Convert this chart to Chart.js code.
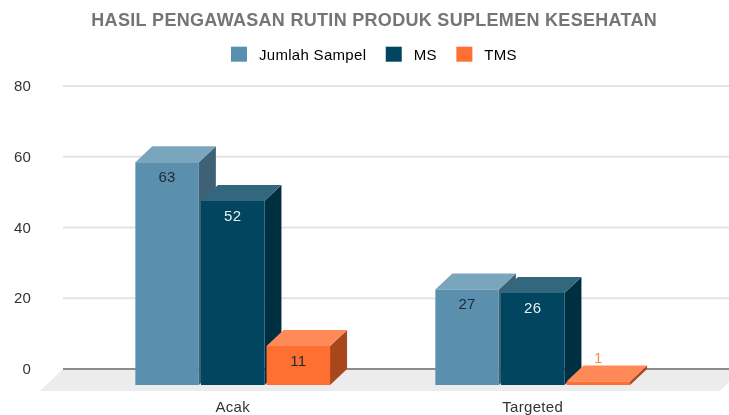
<!DOCTYPE html>
<html>
<head>
<meta charset="utf-8">
<style>
html, body { margin: 0; padding: 0; background: #fff; }
canvas { display: block; }
</style>
<script src="https://cdn.jsdelivr.net/npm/chart.js@4/dist/chart.umd.min.js"></script>
</head>
<body>
<canvas id="myChart" width="729" height="415"></canvas>
<script>
const categories = ['Acak', 'Targeted'];
const jumlahSampel = [63, 27];
const ms = [52, 26];
const tms = [11, 1];
const yTicks = [0, 20, 40, 60, 80];

const chartTitle = 'HASIL PENGAWASAN RUTIN PRODUK SUPLEMEN KESEHATAN';
const fontName = '"Liberation Sans", Arial, sans-serif';

// depth of the fake 3d
const dx = 17;
const dy = 16;

const shades = [
    {top: '#79a6bd', side: '#3f6175'},
    {top: '#33677e', side: '#012f42'},
    {top: '#ff8a58', side: '#a8471c'}
];
const valueColors = [
    ['#1c2a33', '#1c2a33'],
    ['#e8eef2', '#e8eef2'],
    ['#1c2a33', '#ff8a58']
];

function poly(ctx, pts, color) {
    ctx.fillStyle = color;
    ctx.beginPath();
    ctx.moveTo(pts[0][0], pts[0][1]);
    for (let i = 1; i < pts.length; i++) {
        ctx.lineTo(pts[i][0], pts[i][1]);
    }
    ctx.closePath();
    ctx.fill();
}

const box3d = {
    id: 'box3d',
    beforeUpdate(chart) {
        chart.ctx.letterSpacing = '0.3px';
    },
    afterLayout(chart) {
        // y labels sit far left of the axis box, chart.js clips them to that box
        chart.scales.y.left = 0;
        // title and legend are spaced apart differently from what the layout gives
        chart.titleBlock.top = 10;
        chart.legend.top = 28.5;
    },
    beforeDraw(chart) {
        chart.ctx.letterSpacing = '0.3px';
    },
    // floor, long grid lines, then sides and tops left to right.
    // the library paints the fronts afterwards, shifted forward
    beforeDatasetsDraw(chart) {
        const ctx = chart.ctx;
        const y = chart.scales.y;
        const y0 = y.getPixelForValue(0);
        poly(ctx, [[63, y0], [40, y0 + 22], [720, y0 + 22], [742, y0]], '#ececec');
        yTicks.forEach(function (t) {
            ctx.fillStyle = t === 0 ? '#8c8c8c' : '#e4e4e4';
            ctx.fillRect(63, y.getPixelForValue(t) - 1, 666, 2);
        });
        chart.data.datasets.forEach(function (ds, i) {
            const s = shades[i];
            chart.getDatasetMeta(i).data.forEach(function (bar) {
                const r = bar.x + bar.width / 2;
                const l = bar.x - bar.width / 2;
                poly(ctx, [[r - dx, bar.y + dy], [r, bar.y], [r, bar.base], [r - dx, bar.base + dy]], s.side);
                poly(ctx, [[l - dx, bar.y + dy], [l, bar.y], [r, bar.y], [r - dx, bar.y + dy]], s.top);
            });
        });
    },
    beforeDatasetDraw(chart) {
        chart.ctx.save();
        chart.ctx.translate(-dx, dy);
    },
    afterDatasetDraw(chart) {
        chart.ctx.restore();
    },
    afterDatasetsDraw(chart) {
        const ctx = chart.ctx;
        ctx.font = '15px ' + fontName;
        ctx.textAlign = 'center';
        ctx.textBaseline = 'middle';
        chart.data.datasets.forEach(function (ds, i) {
            chart.getDatasetMeta(i).data.forEach(function (bar, j) {
                // the value 1 bar is too thin, its label sits above it
                const ly = ds.data[j] < 5 ? bar.y + dy - 23 : bar.y + dy + 15.5;
                ctx.fillStyle = valueColors[i][j];
                ctx.fillText(ds.data[j], bar.x - dx, ly);
            });
        });
    },
    afterDraw(chart) {
        const ctx = chart.ctx;
        chart.legend.legendHitBoxes.forEach(function (b, i) {
            ctx.fillStyle = chart.data.datasets[i].backgroundColor;
            ctx.fillRect(b.left - 0.5, chart.legend.top + 18.2, 16, 15);
        });
    }
};

var ctx = document.getElementById('myChart').getContext('2d');
var myChart = new Chart(ctx, {
    type: 'bar',
    data: {
        labels: categories,
        datasets: [
            {label: 'Jumlah Sampel', data: jumlahSampel, backgroundColor: '#5a90ae'},
            {label: 'MS', data: ms, backgroundColor: '#014561'},
            {label: 'TMS', data: tms, backgroundColor: '#ff6f31'}
        ]
    },
    options: {
        responsive: false,
        animation: false,
        layout: {padding: {left: 48.7, right: 29.3, top: 10, bottom: 0}},
        categoryPercentage: 0.656,
        barPercentage: 0.968,
        plugins: {
            title: {
                display: true,
                text: chartTitle,
                color: '#757575',
                font: {family: fontName, size: 18, weight: 'bold'},
                padding: 0
            },
            legend: {
                position: 'top',
                labels: {
                    color: '#3c3c3c',
                    font: {family: fontName, size: 15},
                    boxWidth: 20,
                    boxHeight: 15,
                    padding: 20,
                    generateLabels(chart) {
                        return chart.data.datasets.map(function (ds, i) {
                            return {text: ds.label, fillStyle: 'rgba(0,0,0,0)', strokeStyle: 'rgba(0,0,0,0)', lineWidth: 0, datasetIndex: i};
                        });
                    }
                }
            },
            tooltip: {enabled: false}
        },
        scales: {
            x: {
                grid: {display: false},
                border: {display: false},
                afterFit(s) { s.height = 46; },
                ticks: {
                    color: '#333',
                    font: {family: fontName, size: 15},
                    labelOffset: -dx,
                    padding: 22,
                    maxRotation: 0
                }
            },
            y: {
                min: 0,
                max: 80,
                grid: {display: false},
                border: {display: false},
                afterFit(s) { s.width = 51; s.paddingTop = 86; s.paddingBottom = 0; },
                ticks: {
                    stepSize: 20,
                    color: '#333',
                    font: {family: fontName, size: 15},
                    padding: 60.5,
                    labelOffset: 1
                }
            }
        }
    },
    plugins: [box3d]
});
</script>
</body>
</html>
